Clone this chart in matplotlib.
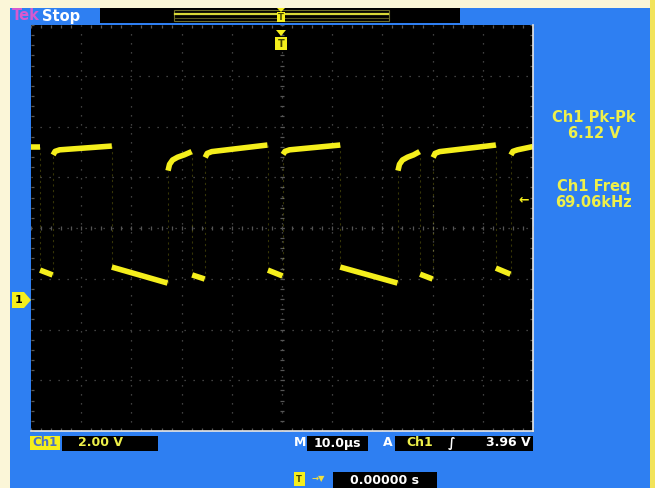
import matplotlib
matplotlib.use('Agg')
import matplotlib.pyplot as plt
from matplotlib.patches import Rectangle, Polygon

W, H = 655, 488

# trace: time in us, level in volts, one list per plateau
seg_t = [
    [-50.0, -48.3],
    [-48.2, -45.7],
    [-45.6, -45.2, -44.3, -33.9],
    [-33.9, -22.8],
    [-22.7, -22.4, -21.8, -20.8, -19.5, -18.0],
    [-17.9, -15.4],
    [-15.3, -14.9, -14.0, -2.9],
    [-2.8, 0.1],
    [0.2, 0.6, 1.5, 11.6],
    [11.6, 23.0],
    [23.1, 23.4, 24.0, 25.0, 26.2, 27.4],
    [27.5, 30.0],
    [30.1, 30.5, 31.4, 42.6],
    [42.6, 45.5],
    [45.6, 46.0, 46.9, 50.0],
]
seg_v = [
    [6.03, 6.03],
    [1.18, 0.99],
    [5.72, 5.86, 5.92, 6.07],
    [1.30, 0.67],
    [5.10, 5.35, 5.52, 5.63, 5.72, 5.85],
    [0.99, 0.83],
    [5.62, 5.78, 5.85, 6.11],
    [1.18, 0.95],
    [5.74, 5.86, 5.92, 6.11],
    [1.30, 0.67],
    [5.10, 5.35, 5.52, 5.63, 5.72, 5.85],
    [1.02, 0.83],
    [5.62, 5.78, 5.85, 6.11],
    [1.26, 1.02],
    [5.72, 5.86, 5.92, 6.05],
]

volts_per_div = 2.0
us_per_div = 10.0
ch1_pos_div = -1.42      # ground marker below centre
trig_level = 3.96

meas_names = ['Ch1 Pk-Pk', 'Ch1 Freq']
meas_values = ['6.12 V', '69.06kHz']

CREAM = '#fbf6d8'
BLUE = '#2e7ff2'
YEL = '#f5ef1c'
TXT = '#eef04a'
GRID = '#565656'


def fx(x):
    return x / W


def fy(y):
    return 1 - y / H


def box(fig, x0, y0, x1, y1, color, z=1, **kw):
    r = Rectangle((fx(x0), fy(y1)), fx(x1) - fx(x0), fy(y0) - fy(y1),
                  transform=fig.transFigure, facecolor=color, zorder=z, **kw)
    fig.add_artist(r)


def tri(fig, pts, color, z=5):
    fig.add_artist(Polygon([[fx(x), fy(y)] for x, y in pts], closed=True,
                           transform=fig.transFigure, facecolor=color,
                           edgecolor='none', zorder=z))


def label(fig, x, y, s, color='white', size=9, ha='center', **kw):
    fig.text(fx(x), fy(y), s, color=color, fontsize=size, ha=ha, va='center',
             fontweight='bold', zorder=6, **kw)


fig = plt.figure(figsize=(W / 100, H / 100), dpi=100, facecolor=CREAM)

# panels
box(fig, 10, 8, 650, 488, BLUE, edgecolor='none')
box(fig, 650, 0, 655, 488, '#f2e35a', edgecolor='none')
box(fig, 100, 8, 460, 23, 'black', edgecolor='none')
box(fig, 174, 10, 389, 21, 'none', z=2, edgecolor='#6e6e2a', linewidth=0.8)
fig.add_artist(plt.Line2D([fx(175), fx(388)], [fy(14), fy(14)], color='#d8d838',
                          linewidth=1.6, transform=fig.transFigure, zorder=2))
fig.add_artist(plt.Line2D([fx(175), fx(388)], [fy(18), fy(18)], color='#5a5a22',
                          linewidth=0.8, transform=fig.transFigure, zorder=2))

label(fig, 12, 16, 'Tek', color='#d65ad0', size=10.5, ha='left')
label(fig, 42, 16, 'Stop', color='white', size=10.5, ha='left')

# screen
ax = fig.add_axes([fx(31), fy(431), fx(533) - fx(31), fy(25) - fy(431)])
ax.set_zorder(3)
ax.set_facecolor('black')
vc = -ch1_pos_div * volts_per_div
ax.set_xlim(-5 * us_per_div, 5 * us_per_div)
ax.set_ylim(vc - 4 * volts_per_div, vc + 4 * volts_per_div)
ax.set_xticks([k * us_per_div for k in range(-4, 5)])
ax.set_yticks([vc + k * volts_per_div for k in range(-3, 4)])
ax.set_xticks([k * us_per_div / 5 for k in range(-25, 26)], minor=True)
ax.set_yticks([vc + k * volts_per_div / 5 for k in range(-20, 21)], minor=True)
ax.tick_params(which='major', length=0, labelbottom=False, labelleft=False)
ax.tick_params(which='minor', direction='in', length=2.5, color=GRID, width=0.9,
               top=True, right=True, labelbottom=False, labelleft=False)
ax.grid(True, which='major', color=GRID, linestyle=(0, (1, 6.2)), linewidth=0.9)
for s in ['left', 'top']:
    ax.spines[s].set_visible(False)
for s in ['right', 'bottom']:
    ax.spines[s].set_color('#e8e8e8')
    ax.spines[s].set_linewidth(1.2)

# centre cross ticks
xt = [k * us_per_div / 5 for k in range(-25, 26)]
yt = [vc + k * volts_per_div / 5 for k in range(-20, 21)]
ax.plot(xt, [vc] * len(xt), linestyle='none', marker='|', ms=3.5, color=GRID, mew=0.9)
ax.plot([0] * len(yt), yt, linestyle='none', marker='_', ms=3.5, color=GRID, mew=0.9)

# faint edges between plateaus
for i in range(1, len(seg_t)):
    t = seg_t[i][0]
    ax.plot([t, t], [seg_v[i - 1][-1], seg_v[i][0]], color=YEL, linewidth=0.8,
            alpha=0.22, linestyle=(0, (2, 3)))

for ts, vs in zip(seg_t, seg_v):
    ax.plot(ts, vs, color=YEL, linewidth=4, solid_capstyle='butt',
            solid_joinstyle='round')

# trigger marker inside screen
tri(fig, [(276, 30), (286, 30), (281, 36)], YEL)
box(fig, 275, 37, 287, 50, YEL, z=5, edgecolor='none')
label(fig, 281, 44, 'T', color='#444400', size=7)
# trigger marker on top bar
tri(fig, [(277, 8), (285, 8), (281, 12)], YEL)
box(fig, 277, 12, 285, 22, YEL, z=5, edgecolor='none')
label(fig, 281, 17, 'T', color='#444400', size=6)

# channel ground marker
gy = 300
tri(fig, [(12, gy - 8), (24, gy - 8), (31, gy), (24, gy + 8), (12, gy + 8)], YEL)
label(fig, 19, gy, '1', color='black', size=8)

# trigger level arrow
label(fig, 524, 200, '\u2190', color=YEL, size=9)

# measurements
for i, (n, v) in enumerate(zip(meas_names, meas_values)):
    label(fig, 594, 117 + i * 70, n, color=TXT, size=10.5)
    label(fig, 594, 133 + i * 70, v, color=TXT, size=10.5)

# bottom readouts
box(fig, 30, 436, 60, 450, YEL, edgecolor='none')
label(fig, 45, 443, 'Ch1', color='#4a70c8', size=8.5)
box(fig, 62, 436, 158, 451, 'black', edgecolor='none')
label(fig, 100, 443, '%.2f V' % volts_per_div, color=TXT, size=9)

label(fig, 300, 443, 'M', color='white', size=9)
box(fig, 307, 436, 368, 451, 'black', edgecolor='none')
label(fig, 337, 443, '%.1f\u00b5s' % us_per_div, color='white', size=9)

label(fig, 388, 443, 'A', color='white', size=9)
box(fig, 395, 436, 533, 451, 'black', edgecolor='none')
label(fig, 420, 443, 'Ch1', color=TXT, size=9)
label(fig, 452, 443, '\u222b', color='white', size=9)
label(fig, 531, 443, '%.2f V' % trig_level, color='white', size=9, ha='right')

box(fig, 294, 472, 305, 486, YEL, edgecolor='none')
label(fig, 299, 479, 'T', color='#444400', size=6)
label(fig, 318, 479, '\u2192\u25bc', color='#f0e040', size=6)
box(fig, 333, 472, 437, 488, 'black', edgecolor='none')
label(fig, 384, 480, '0.00000 s', color='white', size=9)

fig.savefig('out.png', dpi=100, facecolor=CREAM)
